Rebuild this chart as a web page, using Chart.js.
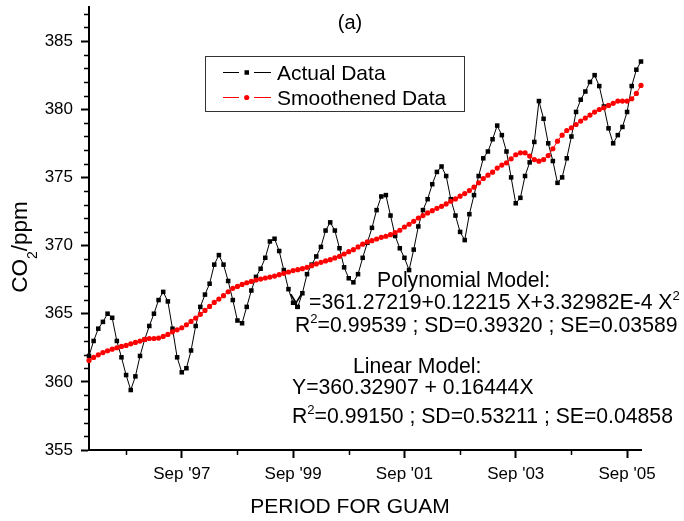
<!DOCTYPE html>
<html>
<head>
<meta charset="utf-8">
<script src="https://cdn.jsdelivr.net/npm/chart.js@4.4.1/dist/chart.umd.min.js"></script>
<style>
  html, body { margin: 0; padding: 0; background: #fff; }
  canvas { display: block; }
</style>
</head>
<body>
<canvas id="co2chart" width="684" height="521"></canvas>
<script>
// Guam CO2, monthly, Jan '96 .. Dec '05 (index 0 = Jan 1996)
const actualData = [
  361.9, 363.0, 363.9, 364.4, 365.0, 364.7, 363.0, 361.8, 360.5, 359.4, 360.4, 361.9,
  363.1, 364.1, 365.0, 366.0, 366.6, 365.9, 363.9, 361.8, 360.7, 361.0, 362.3, 364.1,
  365.5, 366.4, 367.2, 368.6, 369.3, 368.6, 367.4, 366.0, 364.5, 364.3, 365.5, 366.7,
  367.7, 368.3, 369.1, 370.3, 370.5, 369.6, 368.2, 366.8, 365.8, 365.5, 366.5, 367.9,
  368.6, 369.2, 369.9, 371.1, 371.7, 371.1, 369.8, 368.4, 367.6, 367.3, 367.9, 369.1,
  370.2, 371.3, 372.6, 373.6, 373.7, 372.2, 370.7, 369.8, 369.1, 368.2, 369.7, 371.4,
  372.6, 373.4, 374.5, 375.4, 375.8, 375.1, 373.4, 372.2, 371.0, 370.4, 372.3, 373.7,
  375.1, 376.4, 376.9, 377.8, 378.8, 378.1, 376.9, 375.0, 373.1, 373.5, 375.1, 376.1,
  377.6, 380.6, 379.3, 377.5, 376.2, 374.6, 375.0, 376.4, 378.0, 379.8, 380.7, 381.3,
  382.0, 382.5, 381.7, 380.2, 378.6, 377.5, 378.1, 378.7, 379.8, 381.7, 382.9, 383.5
];
const smoothedData = [
  361.57, 361.79, 361.98, 362.15, 362.28, 362.40, 362.50, 362.60, 362.67, 362.79, 362.89, 362.99,
  363.11, 363.18, 363.18, 363.21, 363.33, 363.48, 363.67, 363.82, 363.97, 364.19, 364.43, 364.68,
  364.95, 365.24, 365.53, 365.83, 366.07, 366.32, 366.61, 366.86, 367.00, 367.15, 367.27, 367.37,
  367.47, 367.54, 367.62, 367.69, 367.76, 367.86, 367.96, 368.06, 368.16, 368.23, 368.30, 368.40,
  368.52, 368.65, 368.77, 368.87, 368.96, 369.09, 369.21, 369.38, 369.55, 369.70, 369.90, 370.10,
  370.27, 370.36, 370.48, 370.60, 370.68, 370.80, 370.95, 371.12, 371.36, 371.56, 371.78, 372.02,
  372.20, 372.39, 372.56, 372.73, 372.88, 373.05, 373.25, 373.42, 373.62, 373.81, 374.03, 374.28,
  374.60, 374.92, 375.16, 375.38, 375.68, 375.90, 376.07, 376.36, 376.66, 376.80, 376.80, 376.56,
  376.31, 376.19, 376.31, 376.60, 377.10, 377.66, 378.10, 378.44, 378.64, 378.88, 379.13, 379.35,
  379.57, 379.79, 379.98, 380.11, 380.28, 380.43, 380.60, 380.60, 380.60, 380.77, 381.16, 381.75
];

const xTickMonths = [20, 44, 68, 92, 116];
const xTickLabels = ["Sep '97", "Sep '99", "Sep '01", "Sep '03", "Sep '05"];
const xMinorMonths = [8, 32, 56, 80, 104];
const yTicks = [355, 360, 365, 370, 375, 380, 385];

const FONT = '"Liberation Sans", Arial, sans-serif';
const BLACK = '#000000';
const RED = '#ff0000';

// one unit minor ticks between the 5 ppm majors
const yMinor = [];
for (let v = 355; v <= 387; v++) if (v % 5 !== 0) yMinor.push(v);

function toPoints(arr) {
  return arr.map((v, i) => ({ x: i, y: v }));
}

// draws text runs, some of them as super/subscripts
function drawRuns(ctx, runs, x, y, size) {
  let cx = x;
  runs.forEach(r => {
    const s = r.sup || r.sub ? size * 0.62 : size;
    ctx.font = s + 'px ' + FONT;
    const dy = r.sup ? -size * 0.42 : (r.sub ? size * 0.45 : 0);
    ctx.fillText(r.t, cx, y + dy);
    cx += ctx.measureText(r.t).width;
  });
  return cx - x;
}

function runsWidth(ctx, runs, size) {
  let w = 0;
  runs.forEach(r => {
    const s = r.sup || r.sub ? size * 0.62 : size;
    ctx.font = s + 'px ' + FONT;
    w += ctx.measureText(r.t).width;
  });
  return w;
}

const minorTicks = {
  id: 'minorTicks',
  afterDraw(chart) {
    const { ctx, chartArea, scales } = chart;
    ctx.save();
    ctx.strokeStyle = BLACK;
    ctx.lineWidth = 1.5;
    ctx.beginPath();
    xMinorMonths.forEach(m => {
      const px = Math.round(scales.x.getPixelForValue(m)) + 0.5;
      ctx.moveTo(px, chartArea.bottom);
      ctx.lineTo(px, chartArea.bottom + 5);
    });
    yMinor.forEach(v => {
      const py = Math.round(scales.y.getPixelForValue(v)) + 0.5;
      ctx.moveTo(chartArea.left, py);
      ctx.lineTo(chartArea.left - 5, py);
    });
    ctx.stroke();
    ctx.restore();
  }
};

const chartText = {
  id: 'chartText',
  afterDraw(chart) {
    const ctx = chart.ctx;
    ctx.save();
    ctx.fillStyle = BLACK;
    ctx.textBaseline = 'alphabetic';
    ctx.textAlign = 'left';

    // panel label
    ctx.font = '20px ' + FONT;
    ctx.textAlign = 'center';
    ctx.fillText('(a)', 350, 29);

    // x axis title
    ctx.font = '21px ' + FONT;
    ctx.fillText('PERIOD FOR GUAM', 350, 513);
    ctx.textAlign = 'left';

    // y axis title, rotated, with subscript
    const yTitle = [{ t: 'CO' }, { t: '2', sub: true }, { t: '/ppm' }];
    ctx.save();
    ctx.translate(27, 247);
    ctx.rotate(-Math.PI / 2);
    const tw = runsWidth(ctx, yTitle, 22.5);
    drawRuns(ctx, yTitle, -tw / 2, 0, 22.5);
    ctx.restore();

    // model fits
    const fs = 21.2;
    drawRuns(ctx, [{ t: 'Polynomial Model:' }], 377, 287, fs);
    drawRuns(ctx, [{ t: 'Y =361.27219+0.12215 X+3.32982E-4 X' }, { t: '2', sup: true }], 289, 309, fs);
    drawRuns(ctx, [{ t: 'R' }, { t: '2', sup: true }, { t: '=0.99539 ; SD=0.39320 ; SE=0.03589' }], 295, 332, fs);
    drawRuns(ctx, [{ t: 'Linear Model:' }], 353, 373, fs);
    drawRuns(ctx, [{ t: 'Y=360.32907 + 0.16444X' }], 292, 394, fs);
    drawRuns(ctx, [{ t: 'R' }, { t: '2', sup: true }, { t: '=0.99150 ; SD=0.53211 ; SE=0.04858' }], 292, 423, fs);

    // legend
    ctx.strokeStyle = '#333333';
    ctx.lineWidth = 1;
    ctx.strokeRect(205.5, 56.5, 259, 55);
    const rows = [
      { label: 'Actual Data', color: BLACK, square: true, y: 72.5, base: 80 },
      { label: 'Smoothened Data', color: RED, square: false, y: 97.5, base: 105 }
    ];
    rows.forEach(r => {
      ctx.strokeStyle = r.color;
      ctx.fillStyle = r.color;
      ctx.lineWidth = 1;
      ctx.beginPath();
      ctx.moveTo(223, r.y); ctx.lineTo(239, r.y);
      ctx.moveTo(254, r.y); ctx.lineTo(271, r.y);
      ctx.stroke();
      if (r.square) {
        ctx.fillRect(244.5, r.y - 2.25, 4.5, 4.5);
      } else {
        ctx.beginPath();
        ctx.arc(246.7, r.y, 2.6, 0, Math.PI * 2);
        ctx.fill();
      }
      ctx.fillStyle = BLACK;
      ctx.font = '21px ' + FONT;
      ctx.fillText(r.label, 277, r.base);
    });
    ctx.restore();
  }
};

new Chart(document.getElementById('co2chart'), {
  type: 'line',
  data: {
    datasets: [
      {
        label: 'Actual Data',
        data: toPoints(actualData),
        borderColor: BLACK,
        borderWidth: 1,
        pointStyle: 'rect',
        pointRadius: 3.2,
        pointBackgroundColor: BLACK,
        pointBorderWidth: 0,
        tension: 0,
        order: 2,
        clip: false
      },
      {
        label: 'Smoothened Data',
        data: toPoints(smoothedData),
        borderColor: RED,
        borderWidth: 1,
        pointStyle: 'circle',
        pointRadius: 2.6,
        pointBackgroundColor: RED,
        pointBorderWidth: 0,
        tension: 0,
        order: 1,
        clip: false
      }
    ]
  },
  options: {
    responsive: false,
    animation: false,
    devicePixelRatio: 1,
    layout: { padding: { left: 0, right: 43, top: 7, bottom: 0 } },
    plugins: {
      legend: { display: false },
      tooltip: { enabled: false }
    },
    scales: {
      x: {
        type: 'linear',
        position: 'bottom',
        min: 0,
        max: 119,
        afterBuildTicks: s => { s.ticks = xTickMonths.map(v => ({ value: v })); },
        afterFit: s => { s.height = 71; s.paddingLeft = 0; s.paddingRight = 0; },
        ticks: {
          autoSkip: false,
          maxRotation: 0,
          padding: 6,
          color: BLACK,
          font: { family: FONT, size: 17 },
          callback: (v, i) => xTickLabels[i]
        },
        grid: {
          drawOnChartArea: false,
          drawTicks: true,
          tickLength: 8,
          tickWidth: 2,
          tickColor: BLACK
        },
        border: { display: true, color: BLACK, width: 2 }
      },
      y: {
        type: 'linear',
        min: 355,
        max: 387.5,
        afterBuildTicks: s => { s.ticks = yTicks.map(v => ({ value: v })); },
        afterFit: s => { s.width = 89; s.paddingTop = 0; s.paddingBottom = 0; },
        ticks: {
          padding: 8,
          color: BLACK,
          font: { family: FONT, size: 17 }
        },
        grid: {
          drawOnChartArea: false,
          drawTicks: true,
          tickLength: 8,
          tickWidth: 2,
          tickColor: BLACK
        },
        border: { display: true, color: BLACK, width: 2 }
      }
    }
  },
  plugins: [minorTicks, chartText]
});
</script>
</body>
</html>
